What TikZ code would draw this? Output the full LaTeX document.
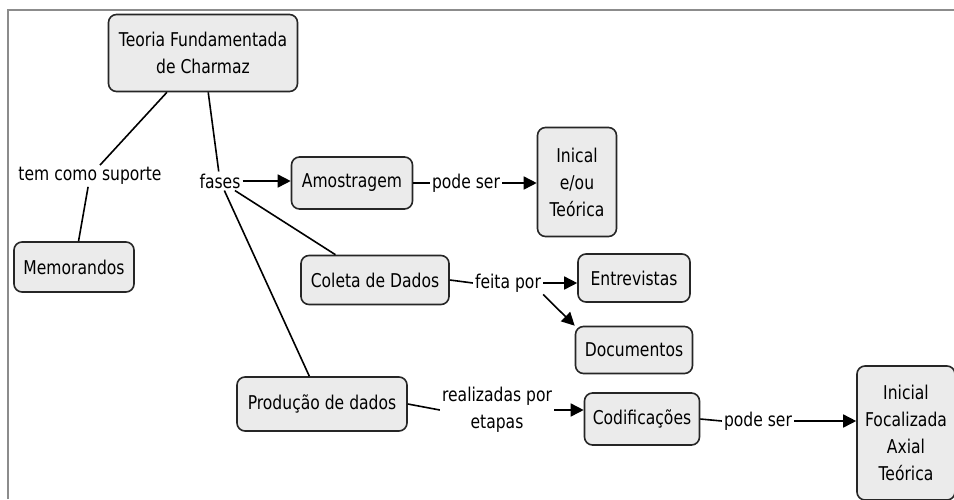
\documentclass[tikz,border=0pt]{standalone}
\usepackage{fontspec}
\setmainfont{DejaVu Sans}[FakeStretch=0.82]
\usetikzlibrary{arrows.meta}
\tikzset{
  conceito/.style={draw=black!85, line width=1.6pt, rounded corners=8pt, fill=black!8, align=center, inner sep=2pt},
  rotulo/.style={inner sep=2pt, align=center},
  liga/.style={line width=1.6pt},
  seta/.style={line width=1.6pt, -{Triangle[length=13pt,width=13pt]}}
}
\begin{document}
\begin{tikzpicture}[x=1pt, y=-1pt, font=\fontsize{19}{27}\selectfont]
			\useasboundingbox (0,0) rectangle (954,499);
			% moldura
			\draw[black!45, line width=1.5pt] (8,499)--(8,10)--(954,10);
			
			% CONCEITOS
			\node[conceito, minimum width=189, minimum height=77] (teoria) at (203, 53) {Teoria Fundamentada\\de Charmaz}; % raiz
			\node[conceito, minimum width=120, minimum height=50] (memo) at (74, 267) {Memorandos};
			\node[conceito, minimum width=121, minimum height=52] (amost) at (352, 183) {Amostragem};
			\node[conceito, minimum width=79, minimum height=109] (inical) at (577, 182) {Inical\\e/ou\\Teórica};
			\node[conceito, minimum width=148, minimum height=49] (coleta) at (375, 280) {Coleta de Dados};
			\node[conceito, minimum width=112, minimum height=48] (entrev) at (634, 278) {Entrevistas};
			\node[conceito, minimum width=117, minimum height=47] (docs) at (634, 350) {Documentos};
			\node[conceito, minimum width=170, minimum height=54] (prod) at (322, 404) {Produção de dados};
			\node[conceito, minimum width=115, minimum height=52] (codif) at (642, 419) {Codificações};
			\node[conceito, minimum width=98, minimum height=134] (inicial) at (906, 433) {Inicial\\Focalizada\\Axial\\Teórica};
			
			% FRASES DE LIGACAO
			\node[rotulo] (suporte) at (90, 176) {tem como suporte};
			\node[rotulo] (fases) at (220, 181) {fases};
			\node[rotulo] (pode1) at (466, 183) {pode ser};
			\node[rotulo] (feita) at (508, 283) {feita por};
			\node[rotulo] (realiz) at (497, 410) {realizadas por\\etapas};
			\node[rotulo] (pode2) at (758, 421) {pode ser};
			
			% DRAW LIGACOES
			\path[draw, liga] (teoria)--(suporte);
			\path[draw, liga] (suporte)--(memo);
			\path[draw, liga] (teoria)--(fases);
			\path[draw, liga] (fases)--(coleta);
			\path[draw, liga] (fases)--(prod);
			\path[draw, liga] (amost.east)--(pode1.west);
			\path[draw, liga] (coleta.east)--(feita.west);
			\path[draw, liga] (prod.east)--(realiz.west);
			\path[draw, liga] (codif.east)--(pode2.west);
			
			% DRAW SETAS
			\draw[seta] (fases.east)--(fases.east -| amost.west);
			\draw[seta] (pode1.east)--(pode1.east -| inical.west);
			\draw[seta] (feita.east)--(feita.east -| entrev.west);
			\draw[seta] (feita.south east)--(docs.north west);
			\draw[seta] (realiz.east)--(realiz.east -| codif.west);
			\draw[seta] (pode2.east)--(pode2.east -| inicial.west);
		\end{tikzpicture}
\end{document}
